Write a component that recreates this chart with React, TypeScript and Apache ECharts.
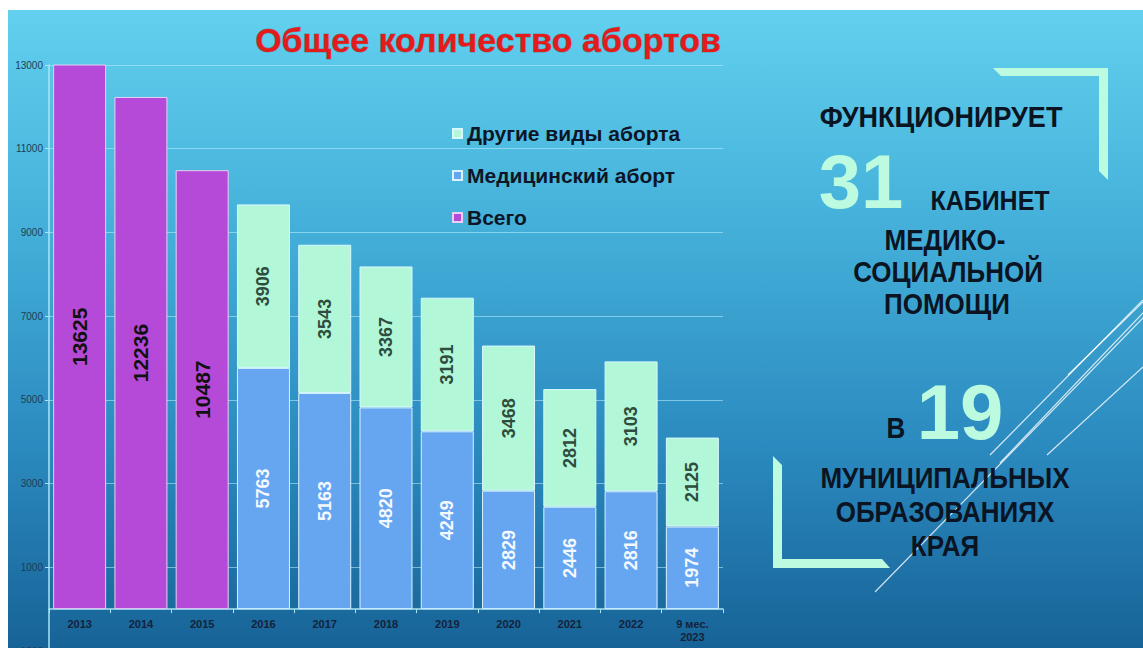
import React, { useEffect, useRef } from "react";
import * as echarts from "echarts";

const years = ["2013", "2014", "2015", "2016", "2017", "2018", "2019", "2020", "2021", "2022", "9 мес.\n2023"];
const totalAll = [13625, 12236, 10487, null, null, null, null, null, null, null, null];
const medical = [null, null, null, 5763, 5163, 4820, 4249, 2829, 2446, 2816, 1974];
const other = [null, null, null, 3906, 3543, 3367, 3191, 3468, 2812, 3103, 2125];
const yMin = -1000;
const yMax = 13000;
const yStep = 2000;

const FONT = "'Liberation Sans', Arial, sans-serif";
const MINT = "#bdfbe0";
const INK = "#0b1422";

const GRID_TOP = 65;
const GRID_H = 586;
const zeroOffset = (GRID_H * (0 - yMin)) / (yMax - yMin);

function txt(text: string, x: number, y: number, size: number, opts: any = {}) {
  return {
    type: "text",
    x,
    y,
    scaleY: opts.scaleY ?? 1.1,
    scaleX: opts.scaleX ?? 1,
    z: 10,
    style: {
      text,
      fill: opts.fill ?? INK,
      font: `bold ${size}px ${FONT}`,
      textAlign: "center",
      textVerticalAlign: "middle",
    },
  };
}

export default function App() {
  const ref = useRef<HTMLDivElement>(null);
  useEffect(() => {
    if (!ref.current) return;
    const chart = echarts.init(ref.current, undefined, { renderer: "svg" });
    const lineStyle = { stroke: "rgba(255,255,255,0.8)", lineWidth: 1.2 };
    const diag = [
      [875, 592, 1143, 318],
      [990, 455, 1143, 300],
      [1000, 463, 1143, 313],
      [1047, 455, 1143, 367],
      [1068, 375, 1143, 302],
    ];
    chart.setOption({
      animation: false,
      textStyle: { fontFamily: FONT },
      grid: { left: 49, top: GRID_TOP, width: 674, height: GRID_H, containLabel: false, outerBoundsMode: "none" },
      legend: {
        data: ["Другие виды аборта", "Медицинский аборт", "Всего"],
        orient: "vertical",
        left: 447,
        top: 118,
        itemWidth: 9,
        itemHeight: 9,
        itemGap: 21,
        icon: "rect",
        textStyle: { fontSize: 21, fontWeight: "bold", color: "#0d1626", fontFamily: FONT, lineHeight: 21 },
      },
      xAxis: {
        type: "category",
        data: years,
        position: "bottom",
        offset: -zeroOffset,
        axisLine: { onZero: false, lineStyle: { color: "#a8e6f5", width: 1.5 } },
        axisTick: { show: true, length: 4, lineStyle: { color: "#a8e6f5" } },
        axisLabel: { fontSize: 11, fontWeight: "bold", color: "#14223a", margin: 8, lineHeight: 13, fontFamily: FONT },
      },
      yAxis: {
        type: "value",
        min: yMin,
        max: yMax,
        interval: yStep,
        axisLine: { show: true, lineStyle: { color: "#a8e6f5", width: 1.5 } },
        axisTick: { show: true, length: 4, lineStyle: { color: "#a8e6f5" } },
        axisLabel: { fontSize: 10, color: "#1f3d52", margin: 6, fontFamily: FONT, formatter: (v: number) => String(v) },
        splitLine: { show: true, lineStyle: { color: "rgba(190,240,255,0.55)", width: 1 } },
      },
      series: [
        {
          name: "Всего",
          type: "bar",
          stack: "a",
          barWidth: 53,
          data: totalAll,
          itemStyle: { color: "#b64ad8", borderColor: "#e6d0f5", borderWidth: 1 },
          label: { show: true, position: "inside", rotate: 90, fontSize: 21, fontWeight: "bold", color: "#111111", fontFamily: FONT },
        },
        {
          name: "Медицинский аборт",
          type: "bar",
          stack: "a",
          barWidth: 53,
          data: medical,
          itemStyle: { color: "#66a6f1", borderColor: "#d8f2ff", borderWidth: 1 },
          label: { show: true, position: "inside", rotate: 90, fontSize: 18, fontWeight: "bold", color: "#f4f8ff", fontFamily: FONT },
        },
        {
          name: "Другие виды аборта",
          type: "bar",
          stack: "a",
          barWidth: 53,
          data: other,
          itemStyle: { color: "#b2f8d8", borderColor: "#d8f8ff", borderWidth: 1 },
          label: { show: true, position: "inside", rotate: 90, fontSize: 18, fontWeight: "bold", color: "#2e4d3e", fontFamily: FONT },
        },
      ],
      graphic: {
        elements: [
          ...diag.map((d) => ({ type: "line", z: 1, shape: { x1: d[0], y1: d[1], x2: d[2], y2: d[3] }, style: lineStyle })),
          {
            type: "polygon",
            z: 2,
            shape: { points: [[993, 68], [1108, 68], [1108, 180], [1099, 171], [1099, 76], [1001, 76]] },
            style: { fill: MINT },
          },
          {
            type: "polygon",
            z: 2,
            shape: { points: [[773, 456], [782, 465], [782, 559], [882, 559], [890, 568], [773, 568]] },
            style: { fill: MINT },
          },
          {
            type: "text",
            x: 488,
            y: 40,
            z: 10,
            style: {
              text: "Общее количество абортов",
              fill: "#e41b1b",
              font: `bold 34px ${FONT}`,
              textAlign: "center",
              textVerticalAlign: "middle",
              stroke: "rgba(110,0,0,0.35)",
              lineWidth: 1,
            },
          },
          txt("ФУНКЦИОНИРУЕТ", 941, 117, 27),
          txt("31", 861, 181, 76, { fill: MINT, scaleY: 1 }),
          txt("КАБИНЕТ", 990, 201, 25),
          txt("МЕДИКО-", 945, 240, 26),
          txt("СОЦИАЛЬНОЙ", 948, 272, 26),
          txt("ПОМОЩИ", 947, 304, 26),
          txt("В", 896, 428, 26),
          txt("19", 960, 412, 78, { fill: MINT, scaleY: 1 }),
          txt("МУНИЦИПАЛЬНЫХ", 945, 478, 26),
          txt("ОБРАЗОВАНИЯХ", 945, 512, 26),
          txt("КРАЯ", 945, 546, 26),
        ],
      },
    });
    return () => chart.dispose();
  }, []);

  return (
    <div style={{ position: "fixed", left: 0, top: 0, width: 1143, height: 648, background: "#ffffff", overflow: "hidden" }}>
      <div
        style={{
          position: "absolute",
          left: 8,
          top: 10,
          right: 0,
          bottom: 0,
          background: "linear-gradient(180deg, #62d0ee 0%, #43afd9 35%, #2a88bd 70%, #176397 100%)",
        }}
      />
      <div ref={ref} style={{ position: "absolute", left: 0, top: 0, width: 1143, height: 648 }} />
    </div>
  );
}
